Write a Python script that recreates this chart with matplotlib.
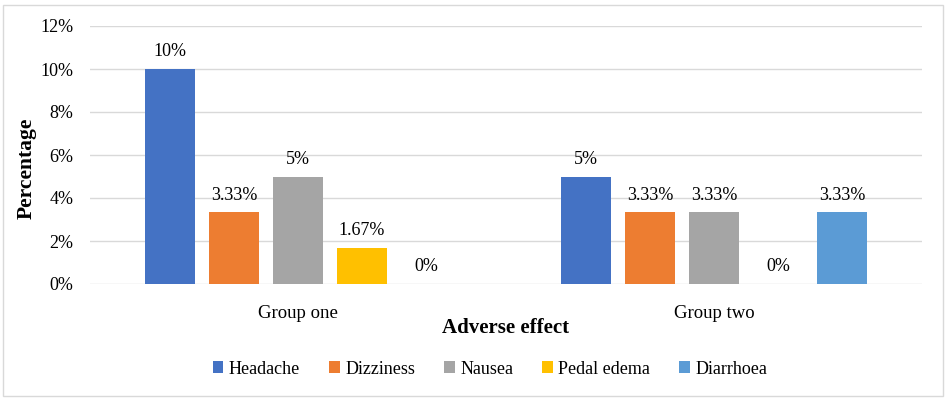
import numpy as np
import matplotlib.pyplot as plt
from matplotlib.patches import Rectangle

groups = ["Group one", "Group two"]
effects = ["Headache", "Dizziness", "Nausea", "Pedal edema", "Diarrhoea"]
values = [
    [10, 5],        # Headache
    [3.33, 3.33],   # Dizziness
    [5, 3.33],      # Nausea
    [1.67, 0],      # Pedal edema
    [0, 3.33],      # Diarrhoea
]
labels = [
    ["10%", "5%"],
    ["3.33%", "3.33%"],
    ["5%", "3.33%"],
    ["1.67%", "0%"],
    ["0%", "3.33%"],
]
colors = ["#4472c4", "#ed7d31", "#a5a5a5", "#ffc000", "#5b9bd5"]
yticks = [0, 2, 4, 6, 8, 10, 12]

plt.rcParams['font.family'] = ['Liberation Serif', 'DejaVu Serif']

fig = plt.figure(figsize=(9.48, 4), dpi=100)
ax = fig.add_axes([90/948, 1-284/400, 832/948, 258/400])

x = np.arange(len(groups))
step = 64/416
width = 50/416
for i, eff in enumerate(effects):
    pos = x + (i - 2) * step
    ax.bar(pos, values[i], width, color=colors[i], label=eff, zorder=3)
    for p, v, t in zip(pos, values[i], labels[i]):
        ax.text(p, v + 0.4, t, ha='center', va='bottom', fontsize=13)

ax.set_xlim(-0.5, 1.5)
ax.set_ylim(0, 12)
ax.set_yticks(yticks)
ax.set_yticklabels([f"{t}%" for t in yticks], fontsize=13)
ax.set_xticks(x)
ax.set_xticklabels(groups, fontsize=13.5)
ax.tick_params(length=0)
ax.tick_params(axis='y', pad=12)
ax.tick_params(axis='x', pad=15)
ax.grid(axis='y', color='#d9d9d9', linewidth=1, zorder=0)
for s in ax.spines.values():
    s.set_visible(False)

ax.set_ylabel("Percentage", fontsize=15.5, fontweight='bold', va='center')
ax.yaxis.set_label_coords(-63/832, 0.45)
ax.set_xlabel("Adverse effect", fontsize=15, fontweight='bold', va='center')
ax.xaxis.set_label_coords(0.5, -44/258)

ax.legend(loc='center', bbox_to_anchor=(490/948, 1-369/400), bbox_transform=fig.transFigure,
          ncol=5, frameon=False, fontsize=13, handlelength=0.6, handleheight=0.6,
          handletextpad=0.3, columnspacing=1.6)

fig.patches.append(Rectangle((3/948, 4/400), 940/948, 391/400, transform=fig.transFigure,
                             fill=False, edgecolor='#d9d9d9', linewidth=1))

fig.savefig("out.png", dpi=100)
